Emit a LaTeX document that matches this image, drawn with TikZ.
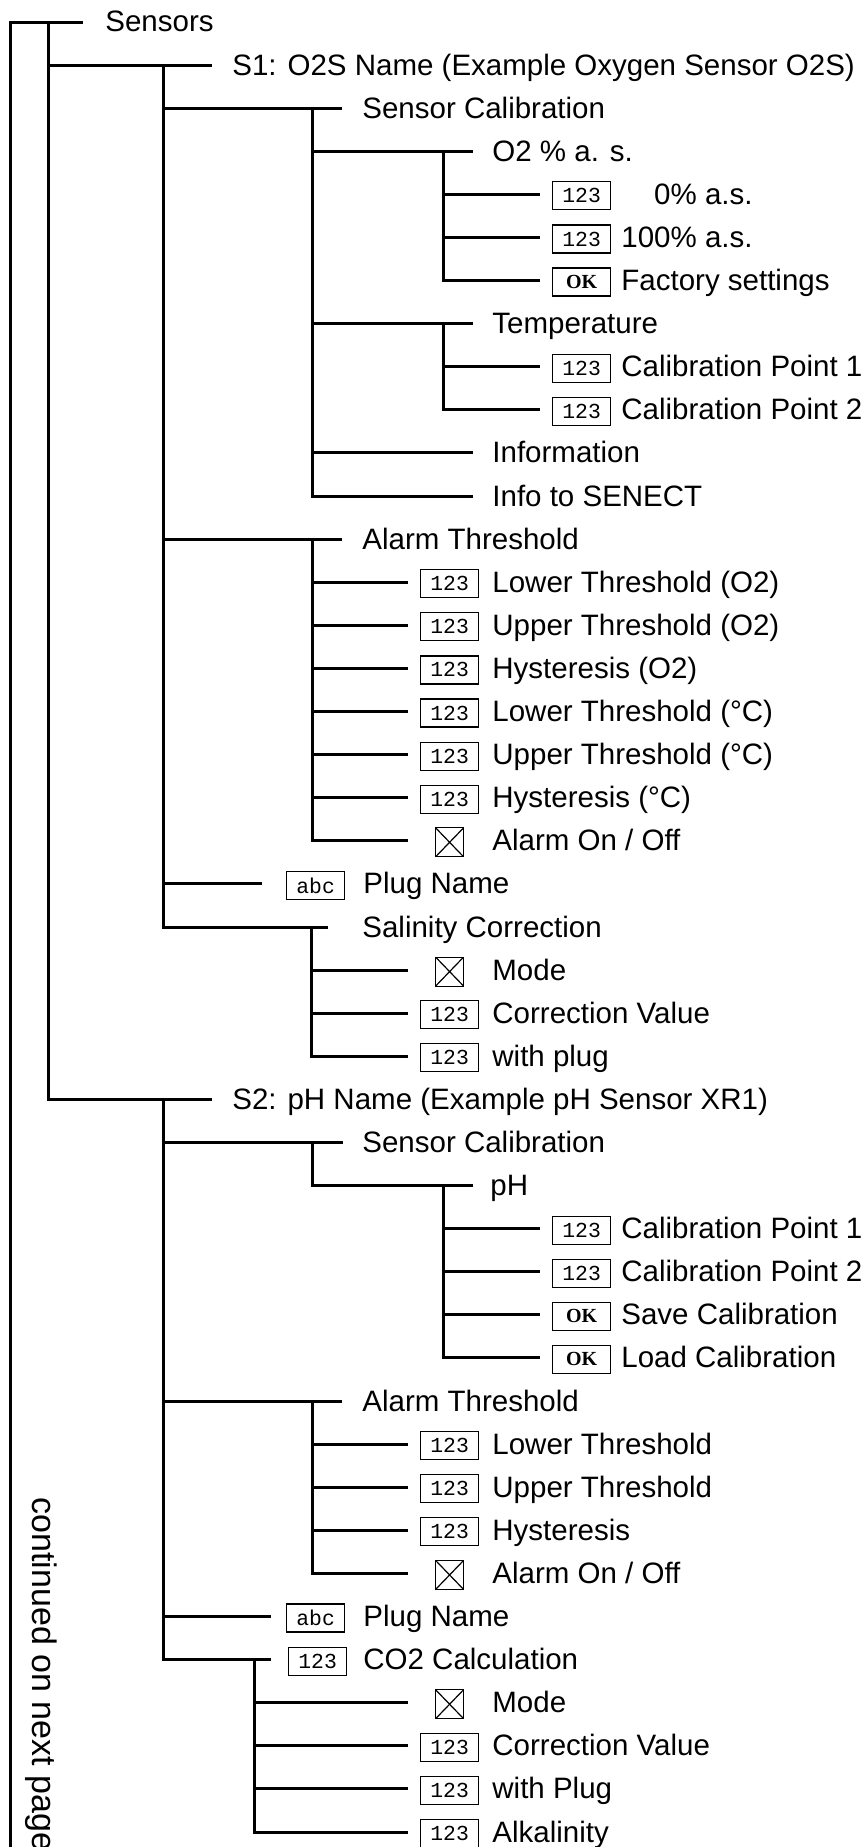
\documentclass[tikz,border=0pt]{standalone}
\usepackage{fontspec}
\setmainfont{Liberation Sans}
\newfontfamily\boxfont{Liberation Mono}
\newfontfamily\okfont{Liberation Serif}
\usetikzlibrary{positioning}

\begin{document}
\begin{tikzpicture}[x=0.5pt, y=-21.5475pt,
  tree/.style={line width=1.5pt},
  item/.style={anchor=base west, inner sep=0pt, yshift=-5pt, font=\fontsize{14.75}{16}\selectfont},
  valbox/.style={draw, line width=0.6pt, anchor=west, inner sep=0pt, minimum width=29pt, minimum height=14pt, yshift=-0.75pt, font=\boxfont\fontsize{10.7}{11}\selectfont},
  okbox/.style={valbox, font=\okfont\bfseries\fontsize{10}{10}\selectfont},
  chkbox/.style={draw, line width=0.6pt, anchor=west, inner sep=0pt, minimum width=14pt, minimum height=14.5pt, yshift=-0.75pt,
    path picture={\draw[line width=0.6pt] (path picture bounding box.north west) -- (path picture bounding box.south east)
      (path picture bounding box.north east) -- (path picture bounding box.south west);}}]
  \useasboundingbox (0pt,11pt) rectangle (430.5pt,-912.5pt);
  \coordinate (more) at (10,43);
  \node[item, font=\fontsize{17}{17}\selectfont, anchor=base west, yshift=0pt, rotate=-90] (cont) at (33,34) {continued on next page};
  \coordinate (e0) at (83,0);
  \node[item] (n0) at (105,0) {Sensors};
  \draw[tree] (more) |- (e0);
  \coordinate (v0) at (48,0);
  \coordinate (e1) at (212,1);
  \node[item] (n1) at (232,1) {S1: O2S Name (Example Oxygen Sensor O2S)};
  \draw[tree] (v0) |- (e1);
  \coordinate (v1) at (163,1);
  \coordinate (e2) at (342,2);
  \node[item] (n2) at (362,2) {Sensor Calibration};
  \draw[tree] (v1) |- (e2);
  \coordinate (v2) at (312,2);
  \coordinate (e3) at (473,3);
  \node[item] (n3) at (492,3) {O2 \% a. s.};
  \draw[tree] (v2) |- (e3);
  \coordinate (v3) at (443,3);
  \coordinate (e4) at (540,4);
  \node[valbox] (b4) at (552,4) {123};
  \node[item] (n4) at (621,4) {\phantom{10}0\% a.s.};
  \draw[tree] (v3) |- (e4);
  \coordinate (e5) at (540,5);
  \node[valbox] (b5) at (552,5) {123};
  \node[item] (n5) at (621,5) {100\% a.s.};
  \draw[tree] (v3) |- (e5);
  \coordinate (e6) at (540,6);
  \node[okbox] (b6) at (552,6) {OK};
  \node[item] (n6) at (621,6) {Factory settings};
  \draw[tree] (v3) |- (e6);
  \coordinate (e7) at (473,7);
  \node[item] (n7) at (492,7) {Temperature};
  \draw[tree] (v2) |- (e7);
  \coordinate (v7) at (443,7);
  \coordinate (e8) at (540,8);
  \node[valbox] (b8) at (552,8) {123};
  \node[item] (n8) at (621,8) {Calibration Point 1};
  \draw[tree] (v7) |- (e8);
  \coordinate (e9) at (540,9);
  \node[valbox] (b9) at (552,9) {123};
  \node[item] (n9) at (621,9) {Calibration Point 2};
  \draw[tree] (v7) |- (e9);
  \coordinate (e10) at (473,10);
  \node[item] (n10) at (492,10) {Information};
  \draw[tree] (v2) |- (e10);
  \coordinate (e11) at (473,11);
  \node[item] (n11) at (492,11) {Info to SENECT};
  \draw[tree] (v2) |- (e11);
  \coordinate (e12) at (342,12);
  \node[item] (n12) at (362,12) {Alarm Threshold};
  \draw[tree] (v1) |- (e12);
  \coordinate (v12) at (312,12);
  \coordinate (e13) at (408,13);
  \node[valbox] (b13) at (420,13) {123};
  \node[item] (n13) at (492,13) {Lower Threshold (O2)};
  \draw[tree] (v12) |- (e13);
  \coordinate (e14) at (408,14);
  \node[valbox] (b14) at (420,14) {123};
  \node[item] (n14) at (492,14) {Upper Threshold (O2)};
  \draw[tree] (v12) |- (e14);
  \coordinate (e15) at (408,15);
  \node[valbox] (b15) at (420,15) {123};
  \node[item] (n15) at (492,15) {Hysteresis (O2)};
  \draw[tree] (v12) |- (e15);
  \coordinate (e16) at (408,16);
  \node[valbox] (b16) at (420,16) {123};
  \node[item] (n16) at (492,16) {Lower Threshold (°C)};
  \draw[tree] (v12) |- (e16);
  \coordinate (e17) at (408,17);
  \node[valbox] (b17) at (420,17) {123};
  \node[item] (n17) at (492,17) {Upper Threshold (°C)};
  \draw[tree] (v12) |- (e17);
  \coordinate (e18) at (408,18);
  \node[valbox] (b18) at (420,18) {123};
  \node[item] (n18) at (492,18) {Hysteresis (°C)};
  \draw[tree] (v12) |- (e18);
  \coordinate (e19) at (408,19);
  \node[chkbox] (c19) at (435,19) {};
  \node[item] (n19) at (492,19) {Alarm On / Off};
  \draw[tree] (v12) |- (e19);
  \coordinate (e20) at (262,20);
  \node[valbox] (b20) at (286,20) {abc};
  \node[item] (n20) at (363,20) {Plug Name};
  \draw[tree] (v1) |- (e20);
  \coordinate (e21) at (328,21);
  \node[item] (n21) at (362,21) {Salinity Correction};
  \draw[tree] (v1) |- (e21);
  \coordinate (v21) at (311,21);
  \coordinate (e22) at (408,22);
  \node[chkbox] (c22) at (435,22) {};
  \node[item] (n22) at (492,22) {Mode};
  \draw[tree] (v21) |- (e22);
  \coordinate (e23) at (408,23);
  \node[valbox] (b23) at (420,23) {123};
  \node[item] (n23) at (492,23) {Correction Value};
  \draw[tree] (v21) |- (e23);
  \coordinate (e24) at (408,24);
  \node[valbox] (b24) at (420,24) {123};
  \node[item] (n24) at (492,24) {with plug};
  \draw[tree] (v21) |- (e24);
  \coordinate (e25) at (212,25);
  \node[item] (n25) at (232,25) {S2: pH Name (Example pH Sensor XR1)};
  \draw[tree] (v0) |- (e25);
  \coordinate (v25) at (163,25);
  \coordinate (e26) at (343,26);
  \node[item] (n26) at (362,26) {Sensor Calibration};
  \draw[tree] (v25) |- (e26);
  \coordinate (v26) at (312,26);
  \coordinate (e27) at (473,27);
  \node[item] (n27) at (490,27) {pH};
  \draw[tree] (v26) |- (e27);
  \coordinate (v27) at (443,27);
  \coordinate (e28) at (540,28);
  \node[valbox] (b28) at (552,28) {123};
  \node[item] (n28) at (621,28) {Calibration Point 1};
  \draw[tree] (v27) |- (e28);
  \coordinate (e29) at (540,29);
  \node[valbox] (b29) at (552,29) {123};
  \node[item] (n29) at (621,29) {Calibration Point 2};
  \draw[tree] (v27) |- (e29);
  \coordinate (e30) at (540,30);
  \node[okbox] (b30) at (552,30) {OK};
  \node[item] (n30) at (621,30) {Save Calibration};
  \draw[tree] (v27) |- (e30);
  \coordinate (e31) at (540,31);
  \node[okbox] (b31) at (552,31) {OK};
  \node[item] (n31) at (621,31) {Load Calibration};
  \draw[tree] (v27) |- (e31);
  \coordinate (e32) at (342,32);
  \node[item] (n32) at (362,32) {Alarm Threshold};
  \draw[tree] (v25) |- (e32);
  \coordinate (v32) at (312,32);
  \coordinate (e33) at (408,33);
  \node[valbox] (b33) at (420,33) {123};
  \node[item] (n33) at (492,33) {Lower Threshold};
  \draw[tree] (v32) |- (e33);
  \coordinate (e34) at (408,34);
  \node[valbox] (b34) at (420,34) {123};
  \node[item] (n34) at (492,34) {Upper Threshold};
  \draw[tree] (v32) |- (e34);
  \coordinate (e35) at (408,35);
  \node[valbox] (b35) at (420,35) {123};
  \node[item] (n35) at (492,35) {Hysteresis};
  \draw[tree] (v32) |- (e35);
  \coordinate (e36) at (408,36);
  \node[chkbox] (c36) at (435,36) {};
  \node[item] (n36) at (492,36) {Alarm On / Off};
  \draw[tree] (v32) |- (e36);
  \coordinate (e37) at (271,37);
  \node[valbox] (b37) at (286,37) {abc};
  \node[item] (n37) at (363,37) {Plug Name};
  \draw[tree] (v25) |- (e37);
  \coordinate (e38) at (271,38);
  \node[valbox] (b38) at (288,38) {123};
  \node[item] (n38) at (363,38) {CO2 Calculation};
  \draw[tree] (v25) |- (e38);
  \coordinate (v38) at (254,38);
  \coordinate (e39) at (408,39);
  \node[chkbox] (c39) at (435,39) {};
  \node[item] (n39) at (492,39) {Mode};
  \draw[tree] (v38) |- (e39);
  \coordinate (e40) at (408,40);
  \node[valbox] (b40) at (420,40) {123};
  \node[item] (n40) at (492,40) {Correction Value};
  \draw[tree] (v38) |- (e40);
  \coordinate (e41) at (408,41);
  \node[valbox] (b41) at (420,41) {123};
  \node[item] (n41) at (492,41) {with Plug};
  \draw[tree] (v38) |- (e41);
  \coordinate (e42) at (408,42);
  \node[valbox] (b42) at (420,42) {123};
  \node[item] (n42) at (492,42) {Alkalinity};
  \draw[tree] (v38) |- (e42);
\end{tikzpicture}
\end{document}
